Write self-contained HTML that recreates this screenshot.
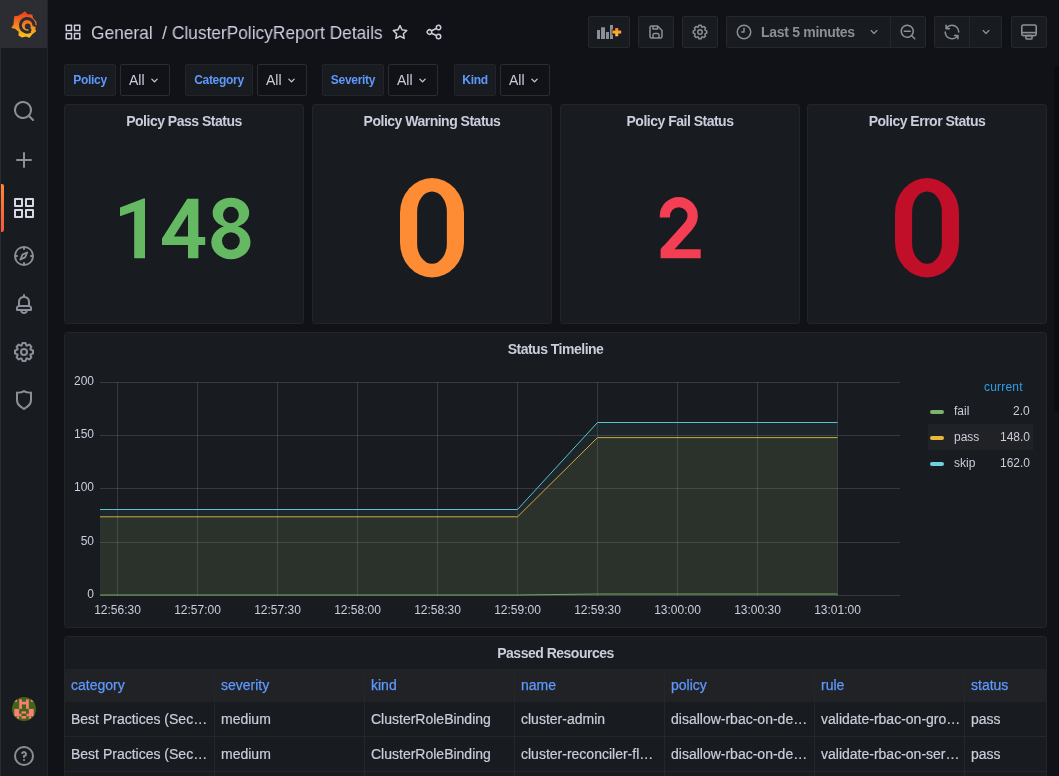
<!DOCTYPE html>
<html><head><meta charset="utf-8"><style>
*{box-sizing:border-box;margin:0;padding:0}
body>*{will-change:transform}
html,body{width:1059px;height:776px;overflow:hidden;background:#111217;font-family:"Liberation Sans",sans-serif;color:#ccccdc}
.abs{position:absolute}
.btn{position:absolute;top:16px;height:32px;background:#181b1f;border:1px solid #25272b;border-radius:2px}
.panel{position:absolute;background:#181b1f;border:1px solid #222428;border-radius:3px}
.ptitle{position:absolute;left:0;right:0;text-align:center;font-weight:bold;font-size:14px;letter-spacing:-0.5px;color:#ccccdc;white-space:nowrap}
.stat{position:absolute;left:0;right:0;text-align:center;font-weight:bold;white-space:nowrap}
.vlabel{position:absolute;top:64px;height:32px;background:#181b1f;border:1px solid #222428;border-radius:2px;color:#5f98fd;font-weight:bold;font-size:12px;line-height:30px;text-align:center;letter-spacing:-0.3px}
.vsel{position:absolute;top:64px;height:32px;width:50px;background:#111217;border:1px solid #2a2c31;border-radius:2px;font-size:14px;line-height:30px;padding-left:8px;color:#ccccdc}
.vsel svg{position:absolute;left:25.5px;top:8px}
.th,.td{position:absolute;font-size:14px;white-space:nowrap}
.td{-webkit-text-stroke:0.2px #ccccdc}
.th{color:#5f98fd;top:677px;-webkit-text-stroke:0.25px #5f98fd}
</style></head><body>
<div class="abs" style="left:0;top:0;width:48px;height:776px;background:#181b1f;border-right:1px solid #222429"></div>
<div class="abs" style="left:0;top:0;width:47px;height:48px;background:#2b2d32"></div>
<svg class="abs" style="left:10px;top:10px" width="28" height="29" viewBox="0 0 28 29">
<defs><linearGradient id="lg" x1="0" y1="0" x2="0" y2="1"><stop offset="0.1" stop-color="#f0441f"/><stop offset="0.5" stop-color="#f57f20"/><stop offset="1" stop-color="#fbc820"/></linearGradient></defs>
<path fill="url(#lg)" d="M15 1.2 L17.6 4.2 L22.3 4.4 L23 8 L26.3 11.5 L26.6 14.5 L25.3 18.5 L26 21.5 L22.3 24.2 L19.5 27.8 L15.8 26.6 L12 27.4 L8.5 25.5 L8.7 21.8 L5 18.8 L1.3 18 L3.5 14.5 L3.8 10.4 L4.2 6.3 L8 5.8 L11.5 3.8 Z"/>
<path d="M23.97 15.89 A6.8 6.8 0 1 0 20.60 21.19" fill="none" stroke="#2b2d32" stroke-width="3"/>
<circle cx="17.7" cy="16.4" r="2.9" fill="#2b2d32"/>
<path d="M19.2 18.3 L20.60 21.19" stroke="#2b2d32" stroke-width="2.6"/>
<path d="M23.6 15.6 L27.5 16.2" stroke="#2b2d32" stroke-width="1.6"/>
</svg>
<svg class="abs" style="left:12px;top:99px" width="24" height="24" viewBox="0 0 24 24"><path fill="#8e8e98" d="M21.71,20.29,18,16.61A9,9,0,1,0,16.61,18l3.68,3.68a1,1,0,0,0,1.42,0A1,1,0,0,0,21.71,20.29ZM11,18a7,7,0,1,1,7-7A7,7,0,0,1,11,18Z"/></svg>
<svg class="abs" style="left:12px;top:148px" width="24" height="24" viewBox="0 0 24 24"><path fill="#8e8e98" d="M19,11H13V5a1,1,0,0,0-2,0v6H5a1,1,0,0,0,0,2h6v6a1,1,0,0,0,2,0V13h6a1,1,0,0,0,0-2Z"/></svg>
<div class="abs" style="left:0;top:184px;width:4px;height:48px;background:linear-gradient(#ff8833,#f5553d);border-radius:0 2px 2px 0"></div>
<svg class="abs" style="left:12px;top:196px" width="24" height="24" viewBox="0 0 24 24"><path fill="#d8d9e5" d="M10,13H3a1,1,0,0,0-1,1v7a1,1,0,0,0,1,1h7a1,1,0,0,0,1-1V14A1,1,0,0,0,10,13ZM9,20H4V15H9ZM21,2H14a1,1,0,0,0-1,1v7a1,1,0,0,0,1,1h7a1,1,0,0,0,1-1V3A1,1,0,0,0,21,2ZM20,9H15V4h5Zm1,4H14a1,1,0,0,0-1,1v7a1,1,0,0,0,1,1h7a1,1,0,0,0,1-1V14A1,1,0,0,0,21,13Zm-1,7H15V15h5ZM10,2H3A1,1,0,0,0,2,3v7a1,1,0,0,0,1,1h7a1,1,0,0,0,1-1V3A1,1,0,0,0,10,2ZM9,9H4V4H9Z"/></svg>
<svg class="abs" style="left:12px;top:244px" width="24" height="24" viewBox="0 0 24 24"><path fill="#8e8e98" d="M12,2A10,10,0,1,0,22,12,10,10,0,0,0,12,2Zm1,17.93V19a1,1,0,0,0-2,0v.93A8,8,0,0,1,4.07,13H5a1,1,0,0,0,0-2H4.07A8,8,0,0,1,11,4.07V5a1,1,0,0,0,2,0V4.07A8,8,0,0,1,19.93,11H19a1,1,0,0,0,0,2h.93A8,8,0,0,1,13,19.93ZM15.14,7.55l-5,2.12a1,1,0,0,0-.47.47l-2.12,5A1,1,0,0,0,7.75,16.3,1,1,0,0,0,8.45,16.450l5-2.12a1,1,0,0,0,.47-.47l2.12-5a1,1,0,0,0-1.31-1.31ZM12.49,12.49l-2.27,1,1-2.27,2.27-1Z"/></svg>
<svg class="abs" style="left:12px;top:292px" width="24" height="24" viewBox="0 0 24 24"><path fill="#8e8e98" d="M18,13.18V10a6,6,0,0,0-5-5.91V3a1,1,0,0,0-2,0V4.09A6,6,0,0,0,6,10v3.18A3,3,0,0,0,4,16v2a1,1,0,0,0,1,1H8.14a4,4,0,0,0,7.72,0H19a1,1,0,0,0,1-1V16A3,3,0,0,0,18,13.18ZM8,10a4,4,0,0,1,8,0v3H8Zm4,10a2,2,0,0,1-1.72-1h3.44A2,2,0,0,1,12,20Zm6-3H6V16a1,1,0,0,1,1-1H17a1,1,0,0,1,1,1Z"/></svg>
<svg class="abs" style="left:12px;top:340px" width="24" height="24" viewBox="0 0 24 24"><path fill="#8e8e98" d="M21.32,9.55l-1.89-.63.89-1.780A1,1,0,0,0,20.13,6L18,3.87a1,1,0,0,0-1.15-.19l-1.78.89-.63-1.89A1,1,0,0,0,13.5,2h-3a1,1,0,0,0-.95.68l-.63,1.89-1.78-.89A1,1,0,0,0,6,3.87L3.87,6a1,1,0,0,0-.19,1.15l.89,1.78-1.89.63A1,1,0,0,0,2,10.5v3a1,1,0,0,0,.68.95l1.89.63-.89,1.78A1,1,0,0,0,3.87,18L6,20.13a1,1,0,0,0,1.15.19l1.78-.89.63,1.89a1,1,0,0,0,.95.68h3a1,1,0,0,0,.95-.68l.63-1.89,1.78.89A1,1,0,0,0,18,20.13L20.130,18a1,1,0,0,0,.19-1.15l-.89-1.78,1.89-.63A1,1,0,0,0,22,13.5v-3A1,1,0,0,0,21.32,9.55ZM20,12.78l-1.2.4A2,2,0,0,0,17.64,16l.57,1.14-1.1,1.1L16,17.64a2,2,0,0,0-2.790,1.16l-.4,1.2H11.22l-.4-1.2A2,2,0,0,0,8,17.64l-1.14.57-1.1-1.1L6.36,16A2,2,0,0,0,5.2,13.18L4,12.78V11.22l1.2-.4A2,2,0,0,0,6.36,8L5.79,6.890l1.1-1.1L8,6.36A2,2,0,0,0,10.82,5.2l.4-1.2h1.56l.4,1.2A2,2,0,0,0,16,6.36l1.14-.57,1.1,1.1L17.64,8a2,2,0,0,0,1.16,2.79l1.2.4ZM12,8a4,4,0,1,0,4,4A4,4,0,0,0,12,8Zm0,6a2,2,0,1,1,2-2A2,2,0,0,1,12,14Z"/></svg>
<svg class="abs" style="left:12px;top:388px" width="24" height="24" viewBox="0 0 24 24"><path fill="#8e8e98" d="M19.63,3.65a1,1,0,0,0-.84-.2,8,8,0,0,1-6.22-1.27,1,1,0,0,0-1.14,0A8,8,0,0,1,5.21,3.45a1,1,0,0,0-.84.2A1,1,0,0,0,4,4.43v7.45a9,9,0,0,0,3.770,7.33l3.65,2.6a1,1,0,0,0,1.16,0l3.65-2.6A9,9,0,0,0,20,11.88V4.43A1,1,0,0,0,19.63,3.65ZM18,11.88a7,7,0,0,1-2.93,5.7L12,19.770,8.93,17.58A7,7,0,0,1,6,11.88V5.58a10,10,0,0,0,6-1.39,10,10,0,0,0,6,1.39Z"/></svg>
<svg class="abs" style="left:12px;top:697px" width="24" height="24" viewBox="0 0 24 24">
<defs><clipPath id="cc"><circle cx="12" cy="12" r="12"/></clipPath></defs>
<g clip-path="url(#cc)"><rect width="24" height="24" fill="#426419"/>
<g fill="#fa8072"><rect x="2.7" y="2.3" width="2.3" height="2.6"/><rect x="18.9" y="2.3" width="2.4" height="2.6"/>
<rect x="7.2" y="2.3" width="2.7" height="9.6"/><rect x="14.1" y="2.3" width="2.7" height="9.6"/><rect x="9.9" y="4.7" width="4.2" height="2.7"/>
<rect x="2.3" y="11.9" width="4.9" height="7.4"/><rect x="7.2" y="16.8" width="2.3" height="2.5"/><rect x="4.9" y="19.3" width="2.3" height="2.3"/>
<rect x="16.8" y="11.9" width="4.9" height="7.4"/><rect x="14.5" y="16.8" width="2.3" height="2.5"/><rect x="16.8" y="19.3" width="2.3" height="2.3"/>
<rect x="9.5" y="14.4" width="4.6" height="2.2"/><rect x="9.5" y="19.1" width="4.6" height="2.5"/></g></g></svg>
<svg class="abs" style="left:12px;top:744px" width="24" height="24" viewBox="0 0 24 24"><path fill="#8e8e98" d="M11.29,15.29a1.58,1.58,0,0,0-.12.15.76.76,0,0,0-.09.18.64.64,0,0,0-.06.18,1.36,1.36,0,0,0,0,.2.84.84,0,0,0,.08.38.9.9,0,0,0,.54.54.94.94,0,0,0,.76,0,.9.9,0,0,0,.54-.54A1,1,0,0,0,13,16a1,1,0,0,0-.29-.71A1,1,0,0,0,11.29,15.29ZM12,2A10,10,0,1,0,22,12,10,10,0,0,0,12,2Zm0,18a8,8,0,1,1,8-8A8,8,0,0,1,12,20ZM12,7A3,3,0,0,0,9.4,8.5a1,1,0,1,0,1.73,1A1,1,0,0,1,12,9a1,1,0,0,1,0,2,1,1,0,0,0-1,1v1a1,1,0,0,0,2,0v-.18A3,3,0,0,0,12,7Z"/></svg>
<div class="abs" style="left:0;top:0;width:1px;height:776px;background:#2a2c30"></div>
<svg class="abs" style="left:64px;top:23px" width="18" height="18" viewBox="0 0 24 24"><path fill="#ccccdc" d="M10,13H3a1,1,0,0,0-1,1v7a1,1,0,0,0,1,1h7a1,1,0,0,0,1-1V14A1,1,0,0,0,10,13ZM9,20H4V15H9ZM21,2H14a1,1,0,0,0-1,1v7a1,1,0,0,0,1,1h7a1,1,0,0,0,1-1V3A1,1,0,0,0,21,2ZM20,9H15V4h5Zm1,4H14a1,1,0,0,0-1,1v7a1,1,0,0,0,1,1h7a1,1,0,0,0,1-1V14A1,1,0,0,0,21,13Zm-1,7H15V15h5ZM10,2H3A1,1,0,0,0,2,3v7a1,1,0,0,0,1,1h7a1,1,0,0,0,1-1V3A1,1,0,0,0,10,2ZM9,9H4V4H9Z"/></svg>
<div class="abs" style="left:91px;top:22.3px;font-size:18.5px;color:#ccccdc;white-space:nowrap;transform:scaleX(0.936);transform-origin:0 0">General&nbsp; / ClusterPolicyReport Details</div>
<svg class="abs" style="left:391px;top:23px" width="18" height="18" viewBox="0 0 24 24"><path fill="#ccccdc" d="M22,9.67A1,1,0,0,0,21.14,9l-5.69-.83L12.9,3a1,1,0,0,0-1.8,0L8.55,8.16,2.86,9a1,1,0,0,0-.81.68,1,1,0,0,0,.25,1l4.13,4-1,5.68A1,1,0,0,0,6.900,21.44L12,18.77l5.1,2.67a.93.93,0,0,0,.46.12,1,1,0,0,0,.59-.19,1,1,0,0,0,.4-1l-1-5.68,4.13-4A1,1,0,0,0,22,9.67Zm-6.15,4a1,1,0,0,0-.29.88l.72,4.2-3.76-2a1.06,1.06,0,0,0-.94,0l-3.76,2,.72-4.2a1,1,0,0,0-.29-.88l-3-3,4.21-.61a1,1,0,0,0,.76-.55L12,5.7l1.88,3.82a1,1,0,0,0,.76.55l4.21.61Z"/></svg>
<svg class="abs" style="left:425px;top:23px" width="18" height="18" viewBox="0 0 24 24"><path fill="#ccccdc" d="M18,14a4,4,0,0,0-3.08,1.48l-5.1-2.35a3.64,3.64,0,0,0,0-2.26l5.1-2.35A4,4,0,1,0,14,6a4.17,4.17,0,0,0,.07.71L8.79,9.14a4,4,0,1,0,0,5.72l5.28,2.43A4.17,4.17,0,0,0,14,18a4,4,0,1,0,4-4ZM18,4a2,2,0,1,1-2,2A2,2,0,0,1,18,4ZM6,14a2,2,0,1,1,2-2A2,2,0,0,1,6,14Zm12,6a2,2,0,1,1,2-2A2,2,0,0,1,18,20Z"/></svg>
<div class="btn" style="left:588px;width:42px"></div>
<svg class="abs" style="left:596px;top:24px" width="28" height="16" viewBox="0 0 28 16">
 <g fill="#8e8e98"><rect x="1" y="6" width="3" height="9"/><rect x="5" y="3.3" width="4" height="11.7"/><rect x="10" y="8" width="3" height="7"/><rect x="14" y="1" width="3" height="14"/></g>
 <defs><linearGradient id="og" x1="0" y1="0" x2="0" y2="1"><stop offset="0" stop-color="#ff7a2a"/><stop offset="1" stop-color="#ffcb3a"/></linearGradient></defs>
 <path d="M15.8 8.1H25.7M20.75 3.4V12.8" stroke="#181b1f" stroke-width="5.2"/>
 <path d="M16.3 8.1H25.2M20.75 3.9V12.3" stroke="url(#og)" stroke-width="3"/>
</svg>
<div class="btn" style="left:638px;width:36px"></div>
<svg class="abs" style="left:647px;top:23px" width="18" height="18" viewBox="0 0 24 24"><path fill="#8e8e98" d="M20.71,9.29l-6-6a1,1,0,0,0-.32-.21A1.090,1.090,0,0,0,14,3H6A3,3,0,0,0,3,6V18a3,3,0,0,0,3,3H18a3,3,0,0,0,3-3V10A1,1,0,0,0,20.71,9.29ZM9,5h4V7H9Zm6,14H9V16a1,1,0,0,1,1-1h4a1,1,0,0,1,1,1Zm4-1a1,1,0,0,1-1,1H17V16a3,3,0,0,0-3-3H10a3,3,0,0,0-3,3v3H6a1,1,0,0,1-1-1V6A1,1,0,0,1,6,5H7V8a1,1,0,0,0,1,1h6a1,1,0,0,0,1-1V6.41l4,4Z"/></svg>
<div class="btn" style="left:682px;width:36px"></div>
<svg class="abs" style="left:691px;top:23px" width="18" height="18" viewBox="0 0 24 24"><path fill="#8e8e98" d="M21.32,9.55l-1.89-.63.89-1.780A1,1,0,0,0,20.13,6L18,3.87a1,1,0,0,0-1.15-.19l-1.78.89-.63-1.89A1,1,0,0,0,13.5,2h-3a1,1,0,0,0-.95.68l-.63,1.89-1.78-.89A1,1,0,0,0,6,3.87L3.87,6a1,1,0,0,0-.19,1.15l.89,1.78-1.89.63A1,1,0,0,0,2,10.5v3a1,1,0,0,0,.68.95l1.89.63-.89,1.78A1,1,0,0,0,3.87,18L6,20.13a1,1,0,0,0,1.15.19l1.78-.89.63,1.89a1,1,0,0,0,.95.68h3a1,1,0,0,0,.95-.68l.63-1.89,1.78.89A1,1,0,0,0,18,20.13L20.130,18a1,1,0,0,0,.19-1.15l-.89-1.78,1.89-.63A1,1,0,0,0,22,13.5v-3A1,1,0,0,0,21.32,9.55ZM20,12.78l-1.2.4A2,2,0,0,0,17.64,16l.57,1.14-1.1,1.1L16,17.64a2,2,0,0,0-2.790,1.16l-.4,1.2H11.22l-.4-1.2A2,2,0,0,0,8,17.64l-1.14.57-1.1-1.1L6.36,16A2,2,0,0,0,5.2,13.18L4,12.78V11.22l1.2-.4A2,2,0,0,0,6.36,8L5.79,6.890l1.1-1.1L8,6.36A2,2,0,0,0,10.82,5.2l.4-1.2h1.56l.4,1.2A2,2,0,0,0,16,6.36l1.14-.57,1.1,1.1L17.64,8a2,2,0,0,0,1.16,2.79l1.2.4ZM12,8a4,4,0,1,0,4,4A4,4,0,0,0,12,8Zm0,6a2,2,0,1,1,2-2A2,2,0,0,1,12,14Z"/></svg>
<div class="btn" style="left:726px;width:200px"></div>
<div class="abs" style="left:890px;top:17px;width:1px;height:30px;background:#25272b"></div>
<svg class="abs" style="left:735px;top:23px" width="18" height="18" viewBox="0 0 24 24"><path fill="#8e8e98" d="M12,2A10,10,0,1,0,22,12,10,10,0,0,0,12,2Zm0,18a8,8,0,1,1,8-8A8,8,0,0,1,12,20Zm0-14a1,1,0,0,0-1,1v4H9a1,1,0,0,0,0,2h3a1,1,0,0,0,1-1V7A1,1,0,0,0,12,6Z"/></svg>
<div class="abs" style="left:761px;top:24px;font-size:14px;font-weight:bold;letter-spacing:-0.3px;color:#8e8e98;white-space:nowrap">Last 5 minutes</div>
<svg class="abs" style="left:866px;top:24px" width="16" height="16" viewBox="0 0 24 24"><path fill="#8e8e98" d="M17,9.17a1,1,0,0,0-1.41,0L12,12.71,8.46,9.17a1,1,0,0,0-1.41,0,1,1,0,0,0,0,1.42l4.24,4.24a1,1,0,0,0,1.42,0L17,10.59A1,1,0,0,0,17,9.17Z"/></svg>
<svg class="abs" style="left:899px;top:23px" width="18" height="18" viewBox="0 0 24 24"><path fill="#8e8e98" d="M21.71,20.29,18,16.61A9,9,0,1,0,16.61,18l3.68,3.68a1,1,0,0,0,1.42,0A1,1,0,0,0,21.71,20.29ZM11,18a7,7,0,1,1,7-7A7,7,0,0,1,11,18Zm4-8H7a1,1,0,0,0,0,2h8a1,1,0,0,0,0-2Z"/></svg>
<div class="btn" style="left:934px;width:68px"></div>
<div class="abs" style="left:969px;top:17px;width:1px;height:30px;background:#25272b"></div>
<svg class="abs" style="left:943px;top:23px" width="18" height="18" viewBox="0 0 24 24"><path fill="#8e8e98" d="M19.91,15.51H15.38a1,1,0,0,0,0,2h2.4A8,8,0,0,1,4,12a1,1,0,0,0-2,0,10,10,0,0,0,16.88,7.23V21a1,1,0,0,0,2,0V16.5A1,1,0,0,0,19.91,15.51ZM12,2A10,10,0,0,0,5.12,4.77V3a1,1,0,0,0-2,0V7.5a1,1,0,0,0,1,1h4.5a1,1,0,0,0,0-2H6.22A8,8,0,0,1,20,12a1,1,0,0,0,2,0A10,10,0,0,0,12,2Z"/></svg>
<svg class="abs" style="left:978px;top:24px" width="16" height="16" viewBox="0 0 24 24"><path fill="#8e8e98" d="M17,9.17a1,1,0,0,0-1.41,0L12,12.71,8.46,9.17a1,1,0,0,0-1.41,0,1,1,0,0,0,0,1.42l4.24,4.24a1,1,0,0,0,1.42,0L17,10.59A1,1,0,0,0,17,9.17Z"/></svg>
<div class="btn" style="left:1011px;width:36px"></div>
<svg class="abs" style="left:1020px;top:24px" width="18" height="17" viewBox="0 0 18 17" fill="none" stroke="#8e8e98" stroke-width="1.6"><rect x="1.8" y="1" width="14.4" height="10.6" rx="1.6"/><path d="M1.8 8.6 H16.2"/><rect x="6" y="11.6" width="6" height="3.4" rx="0.8"/></svg>
<div class="vlabel" style="left:64px;width:52px">Policy</div>
<div class="vsel" style="left:120px">All<svg width="15" height="15" viewBox="0 0 24 24"><path fill="#ccccdc" d="M17,9.17a1,1,0,0,0-1.41,0L12,12.71,8.46,9.17a1,1,0,0,0-1.41,0,1,1,0,0,0,0,1.42l4.24,4.24a1,1,0,0,0,1.42,0L17,10.59A1,1,0,0,0,17,9.17Z"/></svg></div>
<div class="vlabel" style="left:185px;width:68px">Category</div>
<div class="vsel" style="left:257px">All<svg width="15" height="15" viewBox="0 0 24 24"><path fill="#ccccdc" d="M17,9.17a1,1,0,0,0-1.41,0L12,12.71,8.46,9.17a1,1,0,0,0-1.41,0,1,1,0,0,0,0,1.42l4.24,4.24a1,1,0,0,0,1.42,0L17,10.59A1,1,0,0,0,17,9.17Z"/></svg></div>
<div class="vlabel" style="left:322px;width:62px">Severity</div>
<div class="vsel" style="left:388px">All<svg width="15" height="15" viewBox="0 0 24 24"><path fill="#ccccdc" d="M17,9.17a1,1,0,0,0-1.41,0L12,12.71,8.46,9.17a1,1,0,0,0-1.41,0,1,1,0,0,0,0,1.42l4.24,4.24a1,1,0,0,0,1.42,0L17,10.59A1,1,0,0,0,17,9.17Z"/></svg></div>
<div class="vlabel" style="left:454px;width:42px">Kind</div>
<div class="vsel" style="left:500px">All<svg width="15" height="15" viewBox="0 0 24 24"><path fill="#ccccdc" d="M17,9.17a1,1,0,0,0-1.41,0L12,12.71,8.46,9.17a1,1,0,0,0-1.41,0,1,1,0,0,0,0,1.42l4.24,4.24a1,1,0,0,0,1.42,0L17,10.59A1,1,0,0,0,17,9.17Z"/></svg></div>
<div class="panel" style="left:64px;top:104px;width:240px;height:220px"><div class="ptitle" style="top:8px">Policy Pass Status</div></div>
<div class="panel" style="left:312px;top:104px;width:240px;height:220px"><div class="ptitle" style="top:8px">Policy Warning Status</div></div>
<div class="panel" style="left:560px;top:104px;width:240px;height:220px"><div class="ptitle" style="top:8px">Policy Fail Status</div></div>
<div class="panel" style="left:807px;top:104px;width:240px;height:220px"><div class="ptitle" style="top:8px">Policy Error Status</div></div>
<svg class="abs" style="left:0;top:0" width="1059" height="776" viewBox="0 0 1059 776"><path fill="#66b963" d="M145 198.5 L143.5 198.5 L120 207.6 L120 216.3 L134.2 211.2 L134.2 258.3 L145 258.3 Z"/><path fill="#66b963" d="M187.3 198.7 L198.4 198.7 L198.4 237 L205.2 237 L205.2 245 L198.4 245 L198.4 258.3 L188 258.3 L188 245 L162 245 L162 238.4 Z"/><path fill="#181b1f" d="M188 214.3 L188 236.6 L174 236.6 Z"/><ellipse cx="230.9" cy="212.7" rx="18.3" ry="15" fill="#66b963"/><ellipse cx="230.9" cy="242.3" rx="19.6" ry="17" fill="#66b963"/><ellipse cx="230.9" cy="215" rx="7.9" ry="8.3" fill="#181b1f"/><ellipse cx="230.9" cy="241" rx="8.9" ry="8.8" fill="#181b1f"/><rect x="400" y="178" width="64" height="99.5" rx="32" ry="35" fill="#fd8c35"/><rect x="417.15" y="191.6" width="29.7" height="72.1" rx="14.85" ry="20" fill="#181b1f"/><rect x="895" y="178" width="64" height="99.5" rx="32" ry="35" fill="#c10e29"/><rect x="912.15" y="191.6" width="29.7" height="72.1" rx="14.85" ry="20" fill="#181b1f"/><path fill="none" stroke="#f33e53" stroke-width="10.3" d="M664.9 217.5 L664.9 216 A13.9 13.9 0 0 1 692.7 216 Q692.7 221 688.5 226 L666.5 250.5"/><path fill="#f33e53" d="M660.6 249.2 L660.6 258.3 L700.7 258.3 L700.7 249.2 L672 249.2 L663 246 Z"/></svg>
<div class="panel" style="left:64px;top:332px;width:983px;height:296px"><div class="ptitle" style="top:7.5px">Status Timeline</div></div>
<svg class="abs" style="left:0;top:0" width="1059" height="776" viewBox="0 0 1059 776"><g stroke="rgba(204,204,220,0.17)" stroke-width="1" fill="none"><path d="M100 382.5H900"/><path d="M100 435.5H900"/><path d="M100 488.5H900"/><path d="M100 542.5H900"/><path d="M100 595.5H900"/><path d="M117.5 382V596"/><path d="M197.5 382V596"/><path d="M277.5 382V596"/><path d="M357.5 382V596"/><path d="M437.5 382V596"/><path d="M517.5 382V596"/><path d="M597.5 382V596"/><path d="M677.5 382V596"/><path d="M757.5 382V596"/><path d="M837.5 382V596"/></g><polygon points="100.0,509.5 517.5,509.5 597.5,422.5 837.5,422.5 837.5,595.6 100,595.6" fill="#6ed0e0" fill-opacity="0.065"/><polygon points="100.0,516.8 517.5,516.8 597.5,437.6 837.5,437.6 837.5,595.6 100,595.6" fill="#eab839" fill-opacity="0.075"/><polygon points="100.0,595.0 517.5,595.0 597.5,594.0 837.5,594.0 837.5,595.6 100,595.6" fill="#7eb26d" fill-opacity="0.08"/><polyline points="100.0,595.0 517.5,595.0 597.5,594.0 837.5,594.0" fill="none" stroke="#70a862" stroke-width="1"/><polyline points="100.0,516.8 517.5,516.8 597.5,437.6 837.5,437.6" fill="none" stroke="#d2aa3e" stroke-width="1"/><polyline points="100.0,509.5 517.5,509.5 597.5,422.5 837.5,422.5" fill="none" stroke="#5ec0d0" stroke-width="1"/><g font-family="Liberation Sans" font-size="12" fill="#ccccdc"><text x="94" y="385.3" text-anchor="end">200</text><text x="94" y="438.3" text-anchor="end">150</text><text x="94" y="491.3" text-anchor="end">100</text><text x="94" y="545.3" text-anchor="end">50</text><text x="94" y="598.3" text-anchor="end">0</text><text x="117.5" y="614" text-anchor="middle">12:56:30</text><text x="197.5" y="614" text-anchor="middle">12:57:00</text><text x="277.5" y="614" text-anchor="middle">12:57:30</text><text x="357.5" y="614" text-anchor="middle">12:58:00</text><text x="437.5" y="614" text-anchor="middle">12:58:30</text><text x="517.5" y="614" text-anchor="middle">12:59:00</text><text x="597.5" y="614" text-anchor="middle">12:59:30</text><text x="677.5" y="614" text-anchor="middle">13:00:00</text><text x="757.5" y="614" text-anchor="middle">13:00:30</text><text x="837.5" y="614" text-anchor="middle">13:01:00</text></g></svg>
<div class="abs" style="left:984px;top:380px;font-size:12px;letter-spacing:0.2px;color:#2ea0ea">current</div>
<div class="abs" style="left:928px;top:424px;width:105px;height:26px;background:#202226"></div>
<div class="abs" style="left:930px;top:410px;width:14px;height:4px;border-radius:2px;background:#7eb26d"></div>
<div class="abs" style="left:954px;top:404px;font-size:12px">fail</div>
<div class="abs" style="right:29px;top:404px;font-size:12px;text-align:right">2.0</div>
<div class="abs" style="left:930px;top:436px;width:14px;height:4px;border-radius:2px;background:#eab839"></div>
<div class="abs" style="left:954px;top:430px;font-size:12px">pass</div>
<div class="abs" style="right:29px;top:430px;font-size:12px;text-align:right">148.0</div>
<div class="abs" style="left:930px;top:462px;width:14px;height:4px;border-radius:2px;background:#6ed0e0"></div>
<div class="abs" style="left:954px;top:456px;font-size:12px">skip</div>
<div class="abs" style="right:29px;top:456px;font-size:12px;text-align:right">162.0</div>
<div class="panel" style="left:64px;top:636px;width:983px;height:160px;overflow:hidden"><div class="ptitle" style="top:7.5px">Passed Resources</div></div>
<div class="abs" style="left:65px;top:669px;width:981px;height:33px;background:#202226"></div>
<div class="abs" style="left:65px;top:736px;width:981px;height:1px;background:#24262b"></div>
<div class="abs" style="left:65px;top:771px;width:981px;height:1px;background:#24262b"></div>
<div class="abs" style="left:214px;top:669px;width:1px;height:107px;background:#24262b"></div>
<div class="abs" style="left:364px;top:669px;width:1px;height:107px;background:#24262b"></div>
<div class="abs" style="left:514px;top:669px;width:1px;height:107px;background:#24262b"></div>
<div class="abs" style="left:664px;top:669px;width:1px;height:107px;background:#24262b"></div>
<div class="abs" style="left:814px;top:669px;width:1px;height:107px;background:#24262b"></div>
<div class="abs" style="left:964px;top:669px;width:1px;height:107px;background:#24262b"></div>
<div class="th" style="left:71px">category</div>
<div class="td" style="left:71px;top:711px">Best Practices (Sec…</div>
<div class="td" style="left:71px;top:746px">Best Practices (Sec…</div>
<div class="th" style="left:221px">severity</div>
<div class="td" style="left:221px;top:711px">medium</div>
<div class="td" style="left:221px;top:746px">medium</div>
<div class="th" style="left:371px">kind</div>
<div class="td" style="left:371px;top:711px">ClusterRoleBinding</div>
<div class="td" style="left:371px;top:746px">ClusterRoleBinding</div>
<div class="th" style="left:521px">name</div>
<div class="td" style="left:521px;top:711px">cluster-admin</div>
<div class="td" style="left:521px;top:746px">cluster-reconciler-fl…</div>
<div class="th" style="left:671px">policy</div>
<div class="td" style="left:671px;top:711px">disallow-rbac-on-de…</div>
<div class="td" style="left:671px;top:746px">disallow-rbac-on-de…</div>
<div class="th" style="left:821px">rule</div>
<div class="td" style="left:821px;top:711px">validate-rbac-on-gro…</div>
<div class="td" style="left:821px;top:746px">validate-rbac-on-ser…</div>
<div class="th" style="left:971px">status</div>
<div class="td" style="left:971px;top:711px">pass</div>
<div class="td" style="left:971px;top:746px">pass</div>
<div class="abs" style="left:1054px;top:66px;width:8px;height:346px;background:#0b0c10;border-radius:4px"></div>
</body></html>
